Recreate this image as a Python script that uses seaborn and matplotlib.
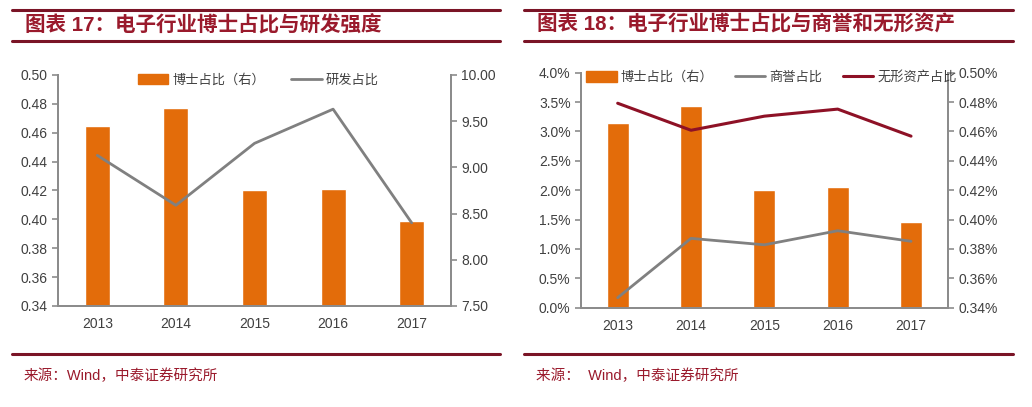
import numpy as np
import matplotlib
matplotlib.use('Agg')
import matplotlib.pyplot as plt
from matplotlib.lines import Line2D
from matplotlib.patches import Patch
from matplotlib.ticker import FuncFormatter, FixedLocator
import seaborn as sns

sns.set_style('white')
plt.rcParams['font.family'] = ['Liberation Sans', 'Noto Sans CJK SC', 'DejaVu Sans']
plt.rcParams['axes.unicode_minus'] = False

# ---- data ----
years = ['2013', '2014', '2015', '2016', '2017']
phd_share = [0.465, 0.477, 0.420, 0.421, 0.399]        # 博士占比
rd_share = [9.13, 8.59, 9.26, 9.63, 8.40]               # 研发占比
phd_share_pct = [0.4655, 0.4773, 0.4200, 0.4219, 0.3986]  # 博士占比 (%)
goodwill_pct = [0.17, 1.18, 1.07, 1.31, 1.13]           # 商誉占比 (%)
intangible_pct = [3.48, 3.02, 3.26, 3.38, 2.92]         # 无形资产占比 (%)

title_left = '图表 17：电子行业博士占比与研发强度'
title_right = '图表 18：电子行业博士占比与商誉和无形资产'
source_left = '来源：Wind，中泰证券研究所'
source_right = '来源：  Wind，中泰证券研究所'

ORANGE = '#E36C0A'
GRAY = '#808080'
DARKRED = '#8E1126'
TITLE_RED = '#9A1A2C'
SPINE = '#8C8C8C'
TICK_TXT = '#404040'

fig = plt.figure(figsize=(10.32, 4.07), dpi=100)


def style_axes(ax, ax2):
    for a in (ax, ax2):
        a.spines['top'].set_visible(False)
        for s in ['left', 'right', 'bottom']:
            a.spines[s].set_color(SPINE)
            a.spines[s].set_linewidth(1.4)
        a.tick_params(axis='y', colors=SPINE, labelcolor=TICK_TXT, labelsize=10,
                      direction='out', length=4, width=1.2)
        a.set_xlabel('')
        a.set_ylabel('')
        a.grid(False)
    ax.set_xlim(-0.5, len(years) - 0.5)
    ax.set_xticks(range(len(years)))
    ax.set_xticklabels(years)
    ax.xaxis.set_minor_locator(FixedLocator(np.arange(-0.5, len(years), 1.0)))
    ax.tick_params(axis='x', which='major', length=0, pad=8, labelsize=10, labelcolor=TICK_TXT)
    ax.tick_params(axis='x', which='minor', length=5, width=1.2, color=SPINE, direction='out')
    ax2.tick_params(axis='x', which='both', length=0, labelbottom=False)


def frame_lines(x0, x1):
    for y in (0.9754, 0.8993, 0.1290):
        fig.add_artist(Line2D([x0, x1], [y, y], transform=fig.transFigure,
                              color='#7A1426', lw=2.2))


# ---- figure 17 ----
axL = fig.add_axes([0.0562, 0.2482, 0.3808, 0.5676])
sns.barplot(x=years, y=phd_share, color=ORANGE, saturation=1, width=0.32, ax=axL)
axL.set_ylim(0.34, 0.50)
axL.set_yticks(np.arange(0.34, 0.5001, 0.02))
axL.yaxis.set_major_formatter(FuncFormatter(lambda v, p: f'{v:.2f}'))

axL2 = axL.twinx()
sns.lineplot(x=np.arange(len(years)), y=rd_share, color=GRAY, lw=2.0, ax=axL2)
axL2.set_ylim(7.5, 10.0)
axL2.set_yticks(np.arange(7.5, 10.001, 0.5))
axL2.yaxis.set_major_formatter(FuncFormatter(lambda v, p: f'{v:.2f}'))
style_axes(axL, axL2)

handles = [Patch(color=ORANGE), Line2D([], [], color=GRAY, lw=2.0)]
axL2.legend(handles, ['博士占比（右）', '研发占比'], loc='center', bbox_to_anchor=(0.51, 0.978),
            ncol=2, frameon=False, fontsize=9.5, handlelength=2.3, handleheight=0.9,
            handletextpad=0.3, columnspacing=2.0, labelcolor=TICK_TXT)

frame_lines(12 / 1032, 500 / 1032)
fig.text(25 / 1032, 0.9386, title_left, color=TITLE_RED, fontsize=14.8, fontweight='bold',
         va='center', ha='left')
fig.text(24 / 1032, 0.0762, source_left, color=TITLE_RED, fontsize=10.5, va='center', ha='left')

# ---- figure 18 ----
axR = fig.add_axes([0.5630, 0.2440, 0.3553, 0.5774])
axR2 = axR.twinx()
sns.barplot(x=years, y=phd_share_pct, color=ORANGE, saturation=1, width=0.30, ax=axR2)
axR2.set_ylim(0.34, 0.50)
axR2.set_yticks(np.arange(0.34, 0.5001, 0.02))
axR2.yaxis.set_major_formatter(FuncFormatter(lambda v, p: f'{v:.2f}%'))

sns.lineplot(x=np.arange(len(years)), y=goodwill_pct, color=GRAY, lw=2.0, ax=axR)
sns.lineplot(x=np.arange(len(years)), y=intangible_pct, color=DARKRED, lw=2.2, ax=axR)
axR.set_ylim(0, 4.0)
axR.set_yticks(np.arange(0, 4.001, 0.5))
axR.yaxis.set_major_formatter(FuncFormatter(lambda v, p: f'{v:.1f}%'))
axR.set_zorder(axR2.get_zorder() + 1)
axR.patch.set_visible(False)
style_axes(axR, axR2)

handles = [Patch(color=ORANGE), Line2D([], [], color=GRAY, lw=2.0),
           Line2D([], [], color=DARKRED, lw=2.2)]
axR.legend(handles, ['博士占比（右）', '商誉占比', '无形资产占比'], loc='center',
           bbox_to_anchor=(0.52, 0.98), ncol=3, frameon=False, fontsize=9.5,
           handlelength=2.3, handleheight=0.9, handletextpad=0.3, columnspacing=1.6,
           labelcolor=TICK_TXT)

frame_lines(524 / 1032, 1013 / 1032)
fig.text(537 / 1032, 0.9386, title_right, color=TITLE_RED, fontsize=14.8, fontweight='bold',
         va='center', ha='left')
fig.text(536 / 1032, 0.0762, source_right, color=TITLE_RED, fontsize=10.5, va='center', ha='left')

fig.savefig('out.png', dpi=100)
